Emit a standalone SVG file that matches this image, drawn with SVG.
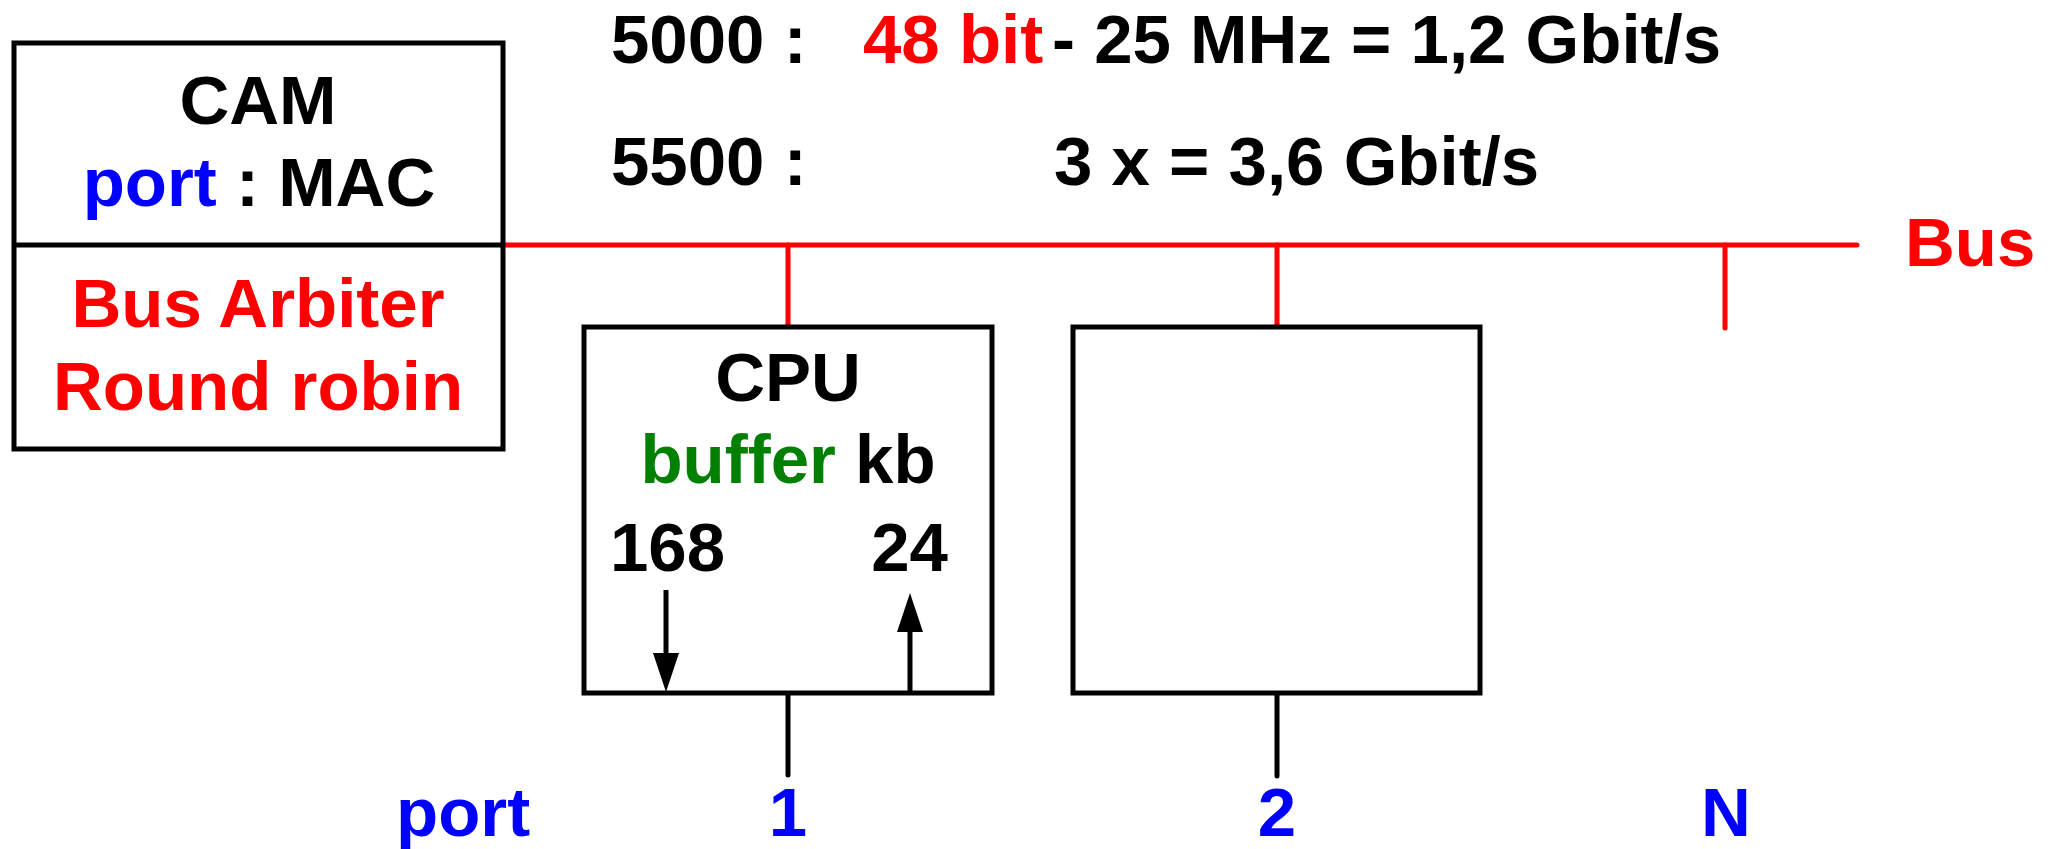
<svg xmlns="http://www.w3.org/2000/svg" width="2051" height="849" viewBox="0 0 2051 849">
<style>
text{font-family:"Liberation Sans",Arial,sans-serif;font-weight:bold;font-size:69px;fill:#000}
.box{fill:#fff;stroke:#000;stroke-width:5}
.bus{stroke:#f00;stroke-width:5;fill:none;stroke-linecap:round}
.wire{stroke:#000;stroke-width:5;fill:none;stroke-linecap:round}
.arr{stroke:#000;stroke-width:5;fill:none}
.red{fill:#f00}.blue{fill:#00f}.green{fill:#008000}
</style>
<defs>
<marker id="ah" viewBox="0 0 39 26" refX="0" refY="13" markerWidth="39" markerHeight="26" markerUnits="userSpaceOnUse" orient="auto">
<path d="M0,0 L39,13 L0,26 Z" fill="#000"/>
</marker>
</defs>
<g id="rates">
<text y="63"><tspan x="611">5000 :</tspan><tspan x="863" class="red">48 bit</tspan><tspan x="1052">- 25 MHz = 1,2 Gbit/s</tspan></text>
<text y="185"><tspan x="611">5500 :</tspan><tspan x="1054">3 x = 3,6 Gbit/s</tspan></text>
</g>
<g id="connectors">
<line class="bus" x1="503" y1="245" x2="1857" y2="245"/>
<line class="bus" x1="788" y1="245" x2="788" y2="327"/>
<line class="bus" x1="1277" y1="245" x2="1277" y2="327"/>
<line class="bus" x1="1725" y1="245" x2="1725" y2="328"/>
<line class="wire" x1="788" y1="693" x2="788" y2="775"/>
<line class="wire" x1="1277" y1="693" x2="1277" y2="776"/>
</g>
<g id="cam">
<rect class="box" x="14" y="43" width="489" height="406"/>
<line x1="14" y1="245" x2="503" y2="245" stroke="#000" stroke-width="5"/>
<text x="258" y="124" text-anchor="middle">CAM</text>
<text x="259" y="206" text-anchor="middle"><tspan class="blue">port</tspan> : MAC</text>
<text x="258" y="327" text-anchor="middle" class="red">Bus Arbiter</text>
<text x="258" y="410" text-anchor="middle" class="red">Round robin</text>
</g>
<g id="cpu">
<rect class="box" x="584" y="327" width="408" height="366"/>
<text x="788" y="401" text-anchor="middle">CPU</text>
<text x="788" y="483" text-anchor="middle"><tspan class="green">buffer</tspan> kb</text>
<text x="610" y="571">168</text>
<text x="948" y="571" text-anchor="end">24</text>
<line class="arr" x1="666" y1="590" x2="666" y2="653" marker-end="url(#ah)"/>
<line class="arr" x1="910" y1="693" x2="910" y2="632" marker-end="url(#ah)"/>
</g>
<g id="box2">
<rect class="box" x="1073" y="327" width="407" height="366"/>
</g>
<g id="bus-label">
<text x="1905" y="266" class="red">Bus</text>
</g>
<g id="port-labels">
<text x="396" y="836" class="blue">port</text>
<text x="788" y="836" text-anchor="middle" class="blue">1</text>
<text x="1277" y="836" text-anchor="middle" class="blue">2</text>
<text x="1726" y="836" text-anchor="middle" class="blue">N</text>
</g>
</svg>
